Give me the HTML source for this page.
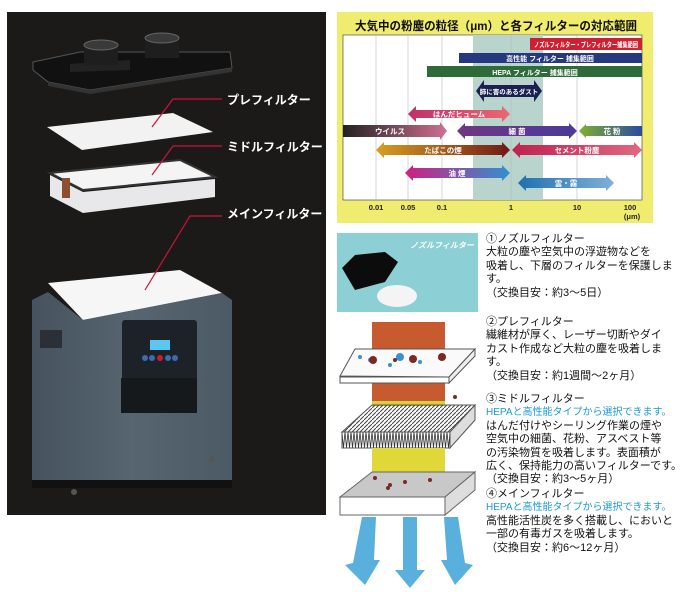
<!DOCTYPE html>
<html><head><meta charset="utf-8">
<style>
body{margin:0;width:680px;height:592px;background:#fff;position:relative;overflow:hidden;font-family:"Liberation Sans","Noto Sans CJK JP",sans-serif}
.t{position:absolute;left:486px;font-size:11px;line-height:13.4px;color:#111;white-space:nowrap;letter-spacing:0}
.b{color:#1a9ad6;font-size:10px}
</style></head><body>
<svg width="680" height="592" style="position:absolute;left:0;top:0" font-family="Liberation Sans, Noto Sans CJK JP, sans-serif">
<defs>
<linearGradient id="cab" x1="0" x2="1"><stop offset="0" stop-color="#46535e"/><stop offset="0.5" stop-color="#56656f"/><stop offset="1" stop-color="#4c5a65"/></linearGradient>
<linearGradient id="g1" x1="0" x2="1"><stop offset="0" stop-color="#c0306a"/><stop offset="1" stop-color="#e86a70"/></linearGradient>
<linearGradient id="g2" x1="0" x2="1"><stop offset="0" stop-color="#222"/><stop offset="1" stop-color="#d07090"/></linearGradient>
<linearGradient id="g3" x1="0" x2="1"><stop offset="0" stop-color="#703880"/><stop offset="1" stop-color="#4a3a9a"/></linearGradient>
<linearGradient id="g4" x1="0" x2="1"><stop offset="0" stop-color="#80b030"/><stop offset="1" stop-color="#2a4aa0"/></linearGradient>
<linearGradient id="g5" x1="0" x2="1"><stop offset="0" stop-color="#d8a020"/><stop offset="1" stop-color="#701818"/></linearGradient>
<linearGradient id="g6" x1="0" x2="1"><stop offset="0" stop-color="#c02050"/><stop offset="1" stop-color="#e06880"/></linearGradient>
<linearGradient id="g7" x1="0" x2="1"><stop offset="0" stop-color="#d02080"/><stop offset="1" stop-color="#3090d0"/></linearGradient>
<linearGradient id="g8" x1="0" x2="1"><stop offset="0" stop-color="#2070b0"/><stop offset="1" stop-color="#80b0d8"/></linearGradient>
<pattern id="zz" width="3" height="16" patternUnits="userSpaceOnUse"><path d="M0 0L1.5 16L3 0" stroke="#333" stroke-width="0.8" fill="none"/></pattern>
<pattern id="dg" width="4" height="4" patternUnits="userSpaceOnUse"><path d="M0 4L4 0" stroke="#444" stroke-width="1"/></pattern>
</defs>
<!-- left panel -->
<rect x="7" y="12" width="319" height="503" fill="#1b1a19"/>
<polygon points="33,62 80,52 230,52 232,68 90,90 48,82 33,70" fill="#111" stroke="#555" stroke-width="1"/>
<polygon points="48,82 90,90 232,68 232,72 90,94 48,86" fill="#333"/>
<polygon points="70,64 130,60 130,70 70,72" fill="#222"/>
<rect x="84" y="45" width="34" height="20" fill="#1e1e1e"/>
<ellipse cx="101" cy="45" rx="17" ry="5" fill="#3a3a3a" stroke="#666"/>
<rect x="145" y="38" width="34" height="20" fill="#1e1e1e"/>
<ellipse cx="162" cy="38" rx="17" ry="5" fill="#3a3a3a" stroke="#666"/>
<polygon points="47,127 173,113 213,132 82,150" fill="#f2f2f2"/>
<polygon points="50,173 180,160 215,177 83,190" fill="#f4f4f4" stroke="#333" stroke-width="2"/>
<polygon points="50,175 83,192 215,179 215,197 83,213 50,196" fill="#e8e8ea"/>
<rect x="62" y="178" width="8" height="20" fill="#8a5030"/>
<polygon points="48,283 180,270 222,293 83,320" fill="#f6f6f6"/>
<polygon points="32,300 48,292 83,320 222,293 232,300 232,480 32,480" fill="url(#cab)"/>
<rect x="32" y="480" width="200" height="8" fill="#111"/>
<circle cx="74" cy="492" r="3" fill="#555"/><circle cx="212" cy="459" r="3" fill="#555"/>
<rect x="122" y="320" width="75" height="62" rx="3" fill="#1c2228"/>
<rect x="150" y="340" width="20" height="10" fill="#5ac8f0"/>
<circle cx="145" cy="358" r="3" fill="#3b6cb0"/><circle cx="152" cy="358" r="3" fill="#3b6cb0"/><circle cx="160" cy="358" r="3" fill="#c02030"/><circle cx="168" cy="358" r="3" fill="#3b6cb0"/><circle cx="175" cy="358" r="3" fill="#3b6cb0"/>
<rect x="121" y="378" width="76" height="35" fill="#15191c"/>
<rect x="40" y="330" width="22" height="18" fill="#2a3036"/>
<polyline points="222,99 173,99 152,127" stroke="#d0103a" stroke-width="1.2" fill="none"/>
<polyline points="222,146 173,146 152,175" stroke="#d0103a" stroke-width="1.2" fill="none"/>
<polyline points="222,216 190,216 145,290" stroke="#d0103a" stroke-width="1.2" fill="none"/>
<g fill="#fff" font-size="12" font-weight="bold">
<text x="227" y="104">プレフィルター</text>
<text x="227" y="151">ミドルフィルター</text>
<text x="227" y="218">メインフィルター</text>
</g>
<!-- chart -->
<rect x="337" y="12" width="316" height="211" fill="#f0ec70"/>
<rect x="343" y="35" width="299" height="165" fill="#fff" stroke="#333" stroke-width="0.6"/>
<rect x="473" y="35" width="70" height="165" fill="#b8d4cc"/>
<g stroke="#bbb" stroke-width="0.6"><line x1="376" y1="35" x2="376" y2="200"/><line x1="408" y1="35" x2="408" y2="200"/><line x1="442" y1="35" x2="442" y2="200"/><line x1="511" y1="35" x2="511" y2="200"/><line x1="577" y1="35" x2="577" y2="200"/></g>
<text x="355" y="30" font-size="12" font-weight="bold" fill="#111" textLength="282" lengthAdjust="spacingAndGlyphs">大気中の粉塵の粒径（μm）と各フィルターの対応範囲</text>
<rect x="530" y="38" width="112" height="12" fill="#d02030"/>
<rect x="459" y="53" width="183" height="10" fill="#263880"/>
<rect x="427" y="66" width="215" height="11" fill="#2e6a3a"/>
<g font-size="7" fill="#fff" font-weight="bold" text-anchor="middle">
<text x="586" y="47" textLength="104" lengthAdjust="spacingAndGlyphs">ノズルフィルター・プレフィルター捕集範囲</text>
<text x="550" y="61">高性能 フィルター 捕集範囲</text>
<text x="535" y="75">HEPA フィルター 捕集範囲</text></g>
<g>
<polygon points="476,91 484,80 484,85 534,85 534,80 542,91 534,102 534,97 484,97 484,102" fill="#1a2050"/>
<polygon points="408,114 416,106 416,110 502,110 502,106 510,114 502,122 502,118 416,118 416,122" fill="url(#g1)"/>
<polygon points="343,125 440,125 440,122 447,131 440,140 440,137 343,137" fill="url(#g2)"/>
<polygon points="457,131 465,123 465,126 569,126 569,123 577,131 569,139 569,136 465,136 465,139" fill="url(#g3)"/>
<polygon points="579,131 586,124 586,126 642,126 642,136 586,136 586,138" fill="url(#g4)"/>
<polygon points="376,150 384,142 384,145 502,145 502,142 510,150 502,158 502,155 384,155 384,158" fill="url(#g5)"/>
<polygon points="512,150 520,142 520,145 634,145 634,142 642,150 634,158 634,155 520,155 520,158" fill="url(#g6)"/>
<polygon points="405,173 413,165 413,168 502,168 502,165 510,173 502,181 502,178 413,178 413,181" fill="url(#g7)"/>
<polygon points="518,183 526,175 526,178 606,178 606,175 614,183 606,191 606,188 526,188 526,191" fill="url(#g8)"/>
</g>
<g font-size="7.5" fill="#fff" font-weight="bold" text-anchor="middle">
<text x="509" y="94" font-size="6.5">肺に害のあるダスト</text><text x="459" y="117">はんだヒューム</text>
<text x="390" y="134">ウイルス</text><text x="517" y="134">細 菌</text><text x="612" y="134">花 粉</text>
<text x="443" y="153">たばこの煙</text><text x="577" y="153">セメント粉塵</text>
<text x="457" y="176">油 煙</text><text x="566" y="186">雲・霧</text></g>
<g font-size="7.5" fill="#222" text-anchor="middle" font-weight="bold">
<text x="376" y="210">0.01</text><text x="408" y="210">0.05</text><text x="442" y="210">0.1</text><text x="511" y="210">1</text><text x="577" y="210">10</text><text x="630" y="210">100</text><text x="632" y="219">(μm)</text></g>
<!-- nozzle photo -->
<rect x="337" y="233" width="141" height="79" fill="#8ccfd4"/>
<text x="410" y="248" font-size="8" fill="#fff" font-style="italic" font-weight="bold">ノズルフィルター</text>
<polygon points="342,268 355,255 385,252 398,262 385,282 355,290" fill="#0c0c0c"/>
<ellipse cx="397" cy="296" rx="20" ry="11" fill="#f4f4f4"/>
<!-- layers -->
<rect x="372" y="322" width="73" height="27" fill="#c85a30"/>
<rect x="372" y="381" width="73" height="20" fill="#c85a30"/>
<rect x="372" y="401" width="73" height="5" fill="#d8d040"/>
<polygon points="340,376 355,349 475,349 449,377" fill="#fafafa" stroke="#555"/>
<polygon points="340,377 449,377 449,383 340,383" fill="#fff" stroke="#555"/>
<polygon points="449,377 475,349 475,356 449,383" fill="#eee" stroke="#555"/>
<g fill="#3a90d0"><circle cx="400" cy="357" r="4"/><circle cx="370" cy="360" r="2"/><circle cx="390" cy="365" r="2"/><circle cx="420" cy="362" r="2"/><circle cx="440" cy="358" r="2"/><circle cx="360" cy="357" r="2"/></g>
<g fill="#7a2a20"><circle cx="373" cy="360" r="4"/><circle cx="413" cy="359" r="4"/><circle cx="442" cy="357" r="4"/><circle cx="395" cy="360" r="2"/><circle cx="455" cy="397" r="2"/></g>
<polygon points="342,432 372,405 475,405 450,432" fill="url(#dg)" stroke="#555"/>
<rect x="342" y="432" width="108" height="16" fill="#fff"/><rect x="342" y="432" width="108" height="16" fill="url(#zz)" stroke="#555"/>
<polygon points="450,432 475,405 475,420 450,448" fill="#ddd" stroke="#555"/>
<rect x="372" y="448" width="73" height="24" fill="#e0d838"/>
<polygon points="340,497 372,472 475,472 445,497" fill="#c8c8c8" stroke="#666"/>
<rect x="340" y="497" width="105" height="18" fill="#fff" stroke="#666"/>
<polygon points="445,497 475,472 475,490 445,515" fill="#ddd" stroke="#666"/>
<g fill="#7a2a20"><circle cx="375" cy="478" r="2"/><circle cx="390" cy="485" r="2"/><circle cx="405" cy="482" r="2"/><circle cx="430" cy="480" r="2"/><circle cx="388" cy="488" r="2"/></g>
<g fill="#5ab0dc">
<polygon points="362,517 376,517 374,560 380,560 365,585 345,565 353,563"/>
<polygon points="403,517 417,517 417,570 425,570 410,588 395,570 403,570"/>
<polygon points="444,517 458,517 465,563 473,565 455,585 441,560 447,560"/>
</g>
</svg>
<div class="t" style="top:233px">①ノズルフィルター<br>大粒の塵や空気中の浮遊物などを<br>吸着し、下層のフィルターを保護しま<br>す。<br>（交換目安：約3～5日）</div>
<div class="t" style="top:316px">②プレフィルター<br>繊維材が厚く、レーザー切断やダイ<br>カスト作成など大粒の塵を吸着しま<br>す。<br>（交換目安：約1週間～2ヶ月）</div>
<div class="t" style="top:393px">③ミドルフィルター<br><span class="b">HEPAと高性能タイプから選択できます。</span><br>はんだ付けやシーリング作業の煙や<br>空気中の細菌、花粉、アスベスト等<br>の汚染物質を吸着します。表面積が<br>広く、保持能力の高いフィルターです。<br>（交換目安：約3～5ヶ月）</div>
<div class="t" style="top:488px">④メインフィルター<br><span class="b">HEPAと高性能タイプから選択できます。</span><br>高性能活性炭を多く搭載し、においと<br>一部の有毒ガスを吸着します。<br>（交換目安：約6～12ヶ月）</div>
</body></html>
